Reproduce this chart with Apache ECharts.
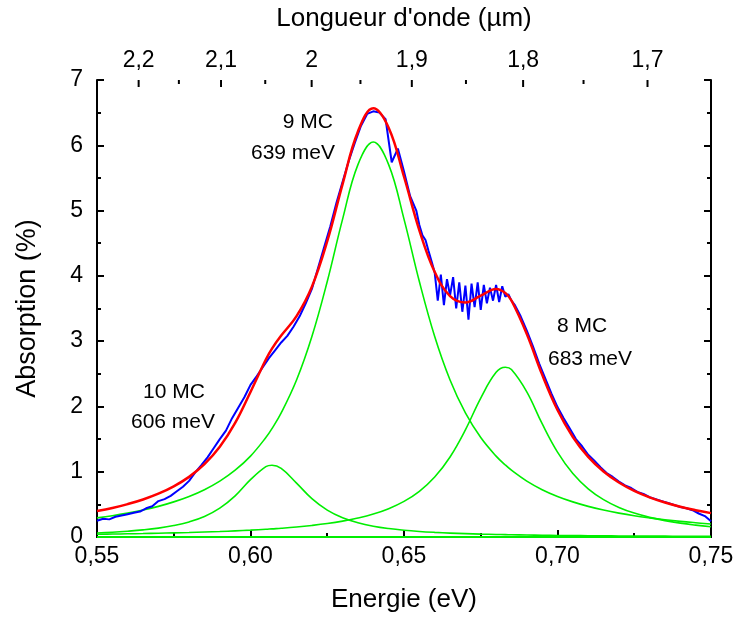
<!DOCTYPE html>
<html><head><meta charset="utf-8">
<script src="https://cdn.jsdelivr.net/npm/echarts@6/dist/echarts.min.js"></script>
<style>html,body{margin:0;padding:0;background:#fff}#c{width:735px;height:619px}</style>
</head><body><div id="c"></div>
<script>
// Energy grid (eV) for fitted curves
const energy = [0.55,0.555,0.56,0.565,0.57,0.575,0.58,0.585,0.59,0.595,0.60,0.605,0.607,0.61,0.615,0.62,0.625,0.63,0.635,0.64,0.645,0.65,0.655,0.66,0.665,0.67,0.675,0.68,0.683,0.685,0.69,0.695,0.70,0.705,0.71,0.715,0.72,0.725,0.73,0.735,0.74,0.745,0.75];
// 9 MC component (639 meV)
const peak9 = [0.293,0.326,0.366,0.413,0.469,0.538,0.621,0.725,0.856,1.023,1.239,1.523,1.661,1.900,2.404,3.070,3.913,4.869,5.704,6.05,5.704,4.869,3.913,3.070,2.404,1.900,1.523,1.239,1.103,1.023,0.856,0.725,0.621,0.538,0.469,0.413,0.366,0.326,0.293,0.264,0.239,0.218,0.199];
// 8 MC component (683 meV)
const peak8 = [0.042,0.045,0.049,0.053,0.058,0.063,0.069,0.076,0.084,0.094,0.105,0.118,0.125,0.134,0.153,0.177,0.206,0.243,0.290,0.351,0.434,0.545,0.700,0.919,1.226,1.641,2.129,2.522,2.6,2.565,2.223,1.735,1.3,0.972,0.738,0.572,0.453,0.366,0.301,0.251,0.212,0.182,0.157];
// 10 MC component (606 meV)
const peak10 = [0.062,0.073,0.089,0.109,0.136,0.175,0.231,0.314,0.441,0.630,0.878,1.078,1.1,1.051,0.826,0.587,0.411,0.294,0.218,0.166,0.130,0.104,0.085,0.071,0.060,0.051,0.044,0.039,0.036,0.034,0.030,0.027,0.024,0.022,0.020,0.018,0.016,0.015,0.014,0.013,0.012,0.011,0.010];
// baseline
const baseline = [0,0,0,0,0,0,0,0,0,0,0,0,0,0,0,0,0,0,0,0,0,0,0,0,0,0,0,0,0,0,0,0,0,0,0,0,0,0,0,0,0,0,0];
// total fit
const fitTotal = [0.397,0.444,0.504,0.575,0.663,0.776,0.921,1.115,1.381,1.747,2.222,2.719,2.886,3.085,3.383,3.834,4.530,5.406,6.212,6.567,6.268,5.518,4.698,4.060,3.690,3.592,3.696,3.800,3.739,3.622,3.109,2.487,1.945,1.532,1.227,1.003,0.835,0.707,0.608,0.528,0.463,0.411,0.366];

// measured spectrum
const measE = [0.550,0.552,0.554,0.556,0.558,0.560,0.562,0.564,0.566,0.568,0.570,0.572,0.574,0.576,0.578,0.580,0.582,0.584,0.586,0.588,0.590,0.592,0.594,0.596,0.598,0.600,0.602,0.604,0.606,0.608,0.610,0.612,0.614,0.616,0.618,0.620,0.622,0.624,0.626,0.628,0.630,0.632,0.634,0.636,0.638,0.640,0.642,0.644,0.646,0.648,0.650,0.652,0.654,
0.655,0.656,0.657,0.658,0.659,0.660,0.661,0.662,0.663,0.664,0.665,0.666,0.667,0.668,0.669,0.670,0.671,0.672,0.673,0.674,0.675,0.676,0.677,0.678,0.679,0.680,0.681,0.682,0.683,0.684,0.685,0.686,
0.688,0.690,0.692,0.694,0.696,0.698,0.700,0.702,0.704,0.706,0.708,0.710,0.712,0.714,0.716,0.718,0.720,0.722,0.724,0.726,0.728,0.730,0.732,0.734,0.736,0.738,0.740,0.742,0.744,0.746,0.748,0.750];
const measA = [0.25,0.28,0.27,0.31,0.33,0.35,0.37,0.39,0.44,0.47,0.55,0.58,0.63,0.70,0.77,0.86,0.99,1.10,1.22,1.36,1.50,1.63,1.82,1.98,2.14,2.33,2.46,2.60,2.74,2.86,2.98,3.08,3.22,3.38,3.58,3.80,4.12,4.44,4.76,5.12,5.44,5.76,6.04,6.30,6.48,6.52,6.50,6.40,5.74,5.95,5.60,5.22,5.00,
4.78,4.62,4.55,4.38,4.22,4.05,3.62,4.02,3.55,3.95,3.70,3.98,3.50,3.90,3.45,3.85,3.33,3.88,3.52,3.90,3.48,3.86,3.58,3.82,3.62,3.86,3.60,3.84,3.68,3.72,3.62,3.56,
3.38,3.16,2.92,2.66,2.43,2.20,1.99,1.82,1.66,1.50,1.39,1.26,1.17,1.07,0.98,0.92,0.85,0.79,0.75,0.69,0.66,0.61,0.58,0.55,0.52,0.49,0.46,0.44,0.41,0.36,0.32,0.24];

// top axis: wavelength ticks (µm)
const wlMajor = [2.2,2.1,2.0,1.9,1.8,1.7];
const wlMajorLabels = ['2,2','2,1','2','1,9','1,8','1,7'];
const wlMinor = [2.15,2.05,1.95,1.85,1.75];
const HC = 1.23984; // eV·µm

const FONT = '"Liberation Sans", Arial, sans-serif';
const zip = (xs, ys) => xs.map((x, i) => [x, ys[i]]);

const topTicks = wlMajor.map((w, i) => [HC / w, 1, i]).concat(wlMinor.map(w => [HC / w, 0, -1]));

const chart = echarts.init(document.getElementById('c'), null, {renderer: 'canvas'});
const tickStyle = {color: '#000', width: 2};
const lineSer = (data, color, width, z, smooth) => ({
  type: 'line', data, showSymbol: false, smooth: smooth, z,
  lineStyle: {color, width}, itemStyle: {color}, silent: true
});

chart.setOption({
  animation: false,
  backgroundColor: '#fff',
  grid: {left: 97, right: 24, top: 80, bottom: 82, containLabel: false, outerBoundsMode: 'none'},
  xAxis: [{
    type: 'value', min: 0.55, max: 0.75, interval: 0.05, position: 'bottom',
    axisLine: {lineStyle: {color: '#000', width: 2}},
    axisTick: {inside: true, length: 7, lineStyle: tickStyle},
    minorTick: {show: true, splitNumber: 2, length: 4, lineStyle: tickStyle},
    splitLine: {show: false},
    axisLabel: {formatter: v => v.toFixed(2).replace('.', ','), fontSize: 23, color: '#000', margin: 8, fontFamily: FONT},
    name: 'Energie (eV)', nameLocation: 'middle', nameGap: 50,
    nameTextStyle: {fontSize: 26, color: '#000', fontFamily: FONT}
  }, {
    type: 'value', min: 0.55, max: 0.75, position: 'top',
    axisLine: {show: true, lineStyle: {color: '#000', width: 2}},
    axisTick: {show: false}, axisLabel: {show: false}, splitLine: {show: false},
    name: "Longueur d'onde (µm)", nameLocation: 'middle', nameGap: 48,
    nameTextStyle: {fontSize: 26, color: '#000', fontFamily: FONT}
  }],
  yAxis: [{
    type: 'value', min: 0, max: 7, interval: 1, position: 'left',
    axisLine: {show: true, lineStyle: {color: '#000', width: 2}},
    axisTick: {show: true, inside: true, length: 7, lineStyle: tickStyle},
    minorTick: {show: true, splitNumber: 2, length: 4, lineStyle: tickStyle},
    splitLine: {show: false},
    axisLabel: {fontSize: 23, color: '#000', margin: 14, fontFamily: FONT},
    name: 'Absorption (%)', nameLocation: 'middle', nameGap: 56, nameRotate: 90,
    nameTextStyle: {fontSize: 27, color: '#000', fontFamily: FONT}
  }, {
    type: 'value', min: 0, max: 7, interval: 1, position: 'right',
    axisLine: {show: true, lineStyle: {color: '#000', width: 2}},
    axisTick: {show: true, inside: true, length: 7, lineStyle: tickStyle},
    minorTick: {show: true, splitNumber: 2, length: 4, lineStyle: tickStyle},
    splitLine: {show: false}, axisLabel: {show: false}
  }],
  graphic: [
    {type: 'text', x: 333, y: 122, style: {text: '9 MC', align: 'right', verticalAlign: 'middle', font: '21px ' + FONT, fill: '#000'}},
    {type: 'text', x: 335, y: 153, style: {text: '639 meV', align: 'right', verticalAlign: 'middle', font: '21px ' + FONT, fill: '#000'}},
    {type: 'text', x: 174, y: 392, style: {text: '10 MC', align: 'center', verticalAlign: 'middle', font: '21px ' + FONT, fill: '#000'}},
    {type: 'text', x: 173, y: 422, style: {text: '606 meV', align: 'center', verticalAlign: 'middle', font: '21px ' + FONT, fill: '#000'}},
    {type: 'text', x: 582, y: 326, style: {text: '8 MC', align: 'center', verticalAlign: 'middle', font: '21px ' + FONT, fill: '#000'}},
    {type: 'text', x: 590, y: 359, style: {text: '683 meV', align: 'center', verticalAlign: 'middle', font: '21px ' + FONT, fill: '#000'}}
  ],
  series: [
    lineSer(zip(energy, baseline), '#00ee00', 2, 3, false),
    lineSer(zip(energy, peak10), '#00ee00', 1.6, 3, 0.4),
    lineSer(zip(energy, peak9), '#00ee00', 1.6, 3, 0.4),
    lineSer(zip(energy, peak8), '#00ee00', 1.6, 3, 0.4),
    lineSer(zip(measE, measA), '#0000ff', 2, 4, false),
    lineSer(zip(energy, fitTotal), '#ff0000', 2.5, 5, 0.4),
    {
      type: 'custom', xAxisIndex: 1, yAxisIndex: 0, data: topTicks, clip: false, silent: true, z: 6,
      renderItem: function (params, api) {
        const major = api.value(1) === 1;
        const p = api.coord([api.value(0), 7]);
        const len = major ? 7 : 4;
        const children = [{
          type: 'line', shape: {x1: p[0], y1: p[1], x2: p[0], y2: p[1] + len},
          style: {stroke: '#000', lineWidth: 2}
        }];
        if (major) {
          children.push({
            type: 'text', x: p[0], y: p[1] - 8,
            style: {text: wlMajorLabels[api.value(2)], align: 'center', verticalAlign: 'bottom', font: '23px ' + FONT, fill: '#000'}
          });
        }
        return {type: 'group', children};
      }
    }
  ]
});
</script></body></html>
